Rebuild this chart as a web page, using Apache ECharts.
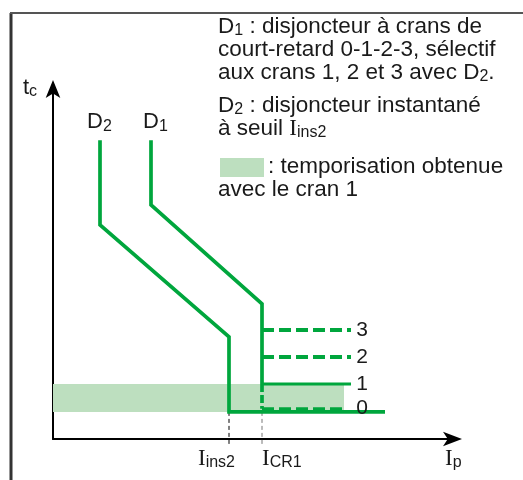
<!DOCTYPE html>
<html><head><meta charset="utf-8">
<script src="https://cdn.jsdelivr.net/npm/echarts@6/dist/echarts.min.js"></script>
<style>html,body{margin:0;padding:0;background:#fff}#c{width:523px;height:480px}</style>
</head><body><div id="c"></div>
<script>
// ---- data (abstract units: x 0..100 current, y 0..100 time) ----
const d2Curve = [[11.75,84.9],[11.75,60.8],[44,29.0],[44,7.7],[83,7.7]];
const d1Curve = [[24.5,84.9],[24.5,66.5],[52.25,38.4],[52.25,15.6]];
const cran1 = [[52.25,15.6],[74.5,15.6]];
const cran2 = [[52.25,23.3],[74.5,23.3]];
const cran3 = [[52.25,31.0],[74.5,31.0]];
const cran0 = [[52.25,8.6],[73,8.6]];
const d1Drop = [[52.25,15.6],[52.25,8.6]];
const iIns2 = 44, iCR1 = 52.25;
const tickDrop = [7.7, -1.7];
const shade = [[0,7.7],[72.75,15.6]];
const cranNames = ['3','2','1','0'];
const cranLevels = [31.0, 23.3, 15.6, 8.8];
const cranLabelX = 77.3;

const G = '#00a63d';
const TXT = '#1a1a1a';
const SANS = '"Liberation Sans", Arial, sans-serif';
const SERIF = '"Liberation Serif", "Times New Roman", serif';

const chart = echarts.init(document.getElementById('c'), null, {renderer:'canvas'});

function lineSeries(data, style, z) {
  return {
    type:'line', data, showSymbol:false, symbol:'none', clip:false, silent:true,
    animation:false, z: z || 3,
    lineStyle: Object.assign({color:G, width:3.5, cap:'butt', join:'miter'}, style)
  };
}
const axisCommon = {
  type:'value', min:0, max:100,
  axisTick:{show:false}, axisLabel:{show:false}, splitLine:{show:false}
};
chart.setOption({
  animation:false,
  grid:{left:53, right:70, top:87, bottom:41},
  xAxis: Object.assign({}, axisCommon, {axisLine:{show:true, lineStyle:{color:'#000', width:2},
    symbol:['none','arrow'], symbolSize:[11,19], symbolOffset:[0,9]}}),
  yAxis: Object.assign({}, axisCommon, {axisLine:{show:true, lineStyle:{color:'#000', width:2},
    symbol:['none','arrow'], symbolSize:[11,18], symbolOffset:[0,7]}}),
  series:[
    {type:'line', data:[], z:1, silent:true, animation:false,
     markArea:{silent:true, itemStyle:{color:'#bddfbf'},
       data:[[{coord:shade[0]},{coord:shade[1]}]]}},
    lineSeries([[iIns2,tickDrop[0]],[iIns2,tickDrop[1]]], {color:'#000', width:1, type:[4,3]}, 2),
    lineSeries([[iCR1,tickDrop[0]],[iCR1,tickDrop[1]]], {color:'#777', width:1, type:[4,3]}, 2),
    lineSeries(cran0, {width:3, type:[12,5]}),
    lineSeries(d2Curve, {width:3.7}),
    lineSeries(d1Curve, {width:3.7}),
    lineSeries(d1Drop, {width:3.7, type:[8,3]}),
    lineSeries(cran1, {width:3}),
    lineSeries(cran2, {width:4, type:[12,5]}),
    lineSeries(cran3, {width:4, type:[12,5]})
  ]
});

const px = p => chart.convertToPixel({gridIndex:0}, p);
const rich = {
  n:{fontSize:22.5, fontFamily:SANS, color:TXT, lineHeight:24},
  s:{fontSize:16, fontFamily:SANS, color:TXT, lineHeight:16, verticalAlign:'bottom'},
  I:{fontSize:23, fontFamily:SERIF, color:TXT, lineHeight:24},
  L:{fontSize:22, fontFamily:SANS, color:TXT, lineHeight:24},
  ls:{fontSize:16, fontFamily:SANS, color:TXT, lineHeight:16, verticalAlign:'bottom'},
  Ib:{fontSize:23, fontFamily:SERIF, color:TXT, lineHeight:24},
  bs:{fontSize:16, fontFamily:SANS, color:TXT, lineHeight:16, verticalAlign:'bottom'},
  c:{fontSize:21, fontFamily:SANS, color:TXT, lineHeight:24}
};
function txt(text, x, y, align) {
  return {type:'text', silent:true, z:10,
    style:{text, x, y, rich, align: align || 'left', verticalAlign:'middle', fill:TXT, font:'21px '+SANS}};
}
const g = [];
// frame
g.push({type:'line', silent:true, shape:{x1:11, y1:13, x2:11, y2:480}, style:{stroke:'#333', lineWidth:3}});
g.push({type:'line', silent:true, shape:{x1:10, y1:13, x2:523, y2:13}, style:{stroke:'#555', lineWidth:2}});
// paragraph
g.push(txt('{n|D}{s|1}{n| : disjoncteur à crans de}', 218, 27));
g.push(txt('{n|court-retard 0-1-2-3, sélectif}', 218, 50));
g.push(txt('{n|aux crans 1, 2 et 3 avec D}{s|2}{n|.}', 218, 73));
g.push(txt('{n|D}{s|2}{n| : disjoncteur instantané}', 218, 106));
g.push(txt('{n|à seuil }{I|I}{s|ins2}', 218, 129));
g.push({type:'rect', silent:true, shape:{x:220, y:158, width:44, height:19}, style:{fill:'#bddfbf'}});
g.push(txt('{n|: temporisation obtenue}', 268, 167));
g.push(txt('{n|avec le cran 1}', 218, 190));
// axis labels
g.push(txt('{L|t}{ls|c}', 23, 88));
const xEnd = px([100,0]);
g.push(txt('{Ib|I}{bs|p}', xEnd[0] - 8, 459));
const pIns = px([iIns2, 0]);
const pCR = px([iCR1, 0]);
g.push(txt('{Ib|I}{bs|ins2}', pIns[0] - 31, 459));
g.push(txt('{Ib|I}{bs|CR1}', pCR[0], 459));
// curve labels
const pD2 = px(d2Curve[0]);
const pD1 = px(d1Curve[0]);
g.push(txt('{L|D}{ls|2}', pD2[0] - 13, pD2[1] - 18));
g.push(txt('{L|D}{ls|1}', pD1[0] - 8, pD1[1] - 18));
// cran labels
cranNames.forEach((nm, i) => {
  const p = px([cranLabelX, cranLevels[i]]);
  g.push(txt('{c|' + nm + '}', p[0], p[1], 'center'));
});
chart.setOption({graphic: g});
</script>
</body></html>
